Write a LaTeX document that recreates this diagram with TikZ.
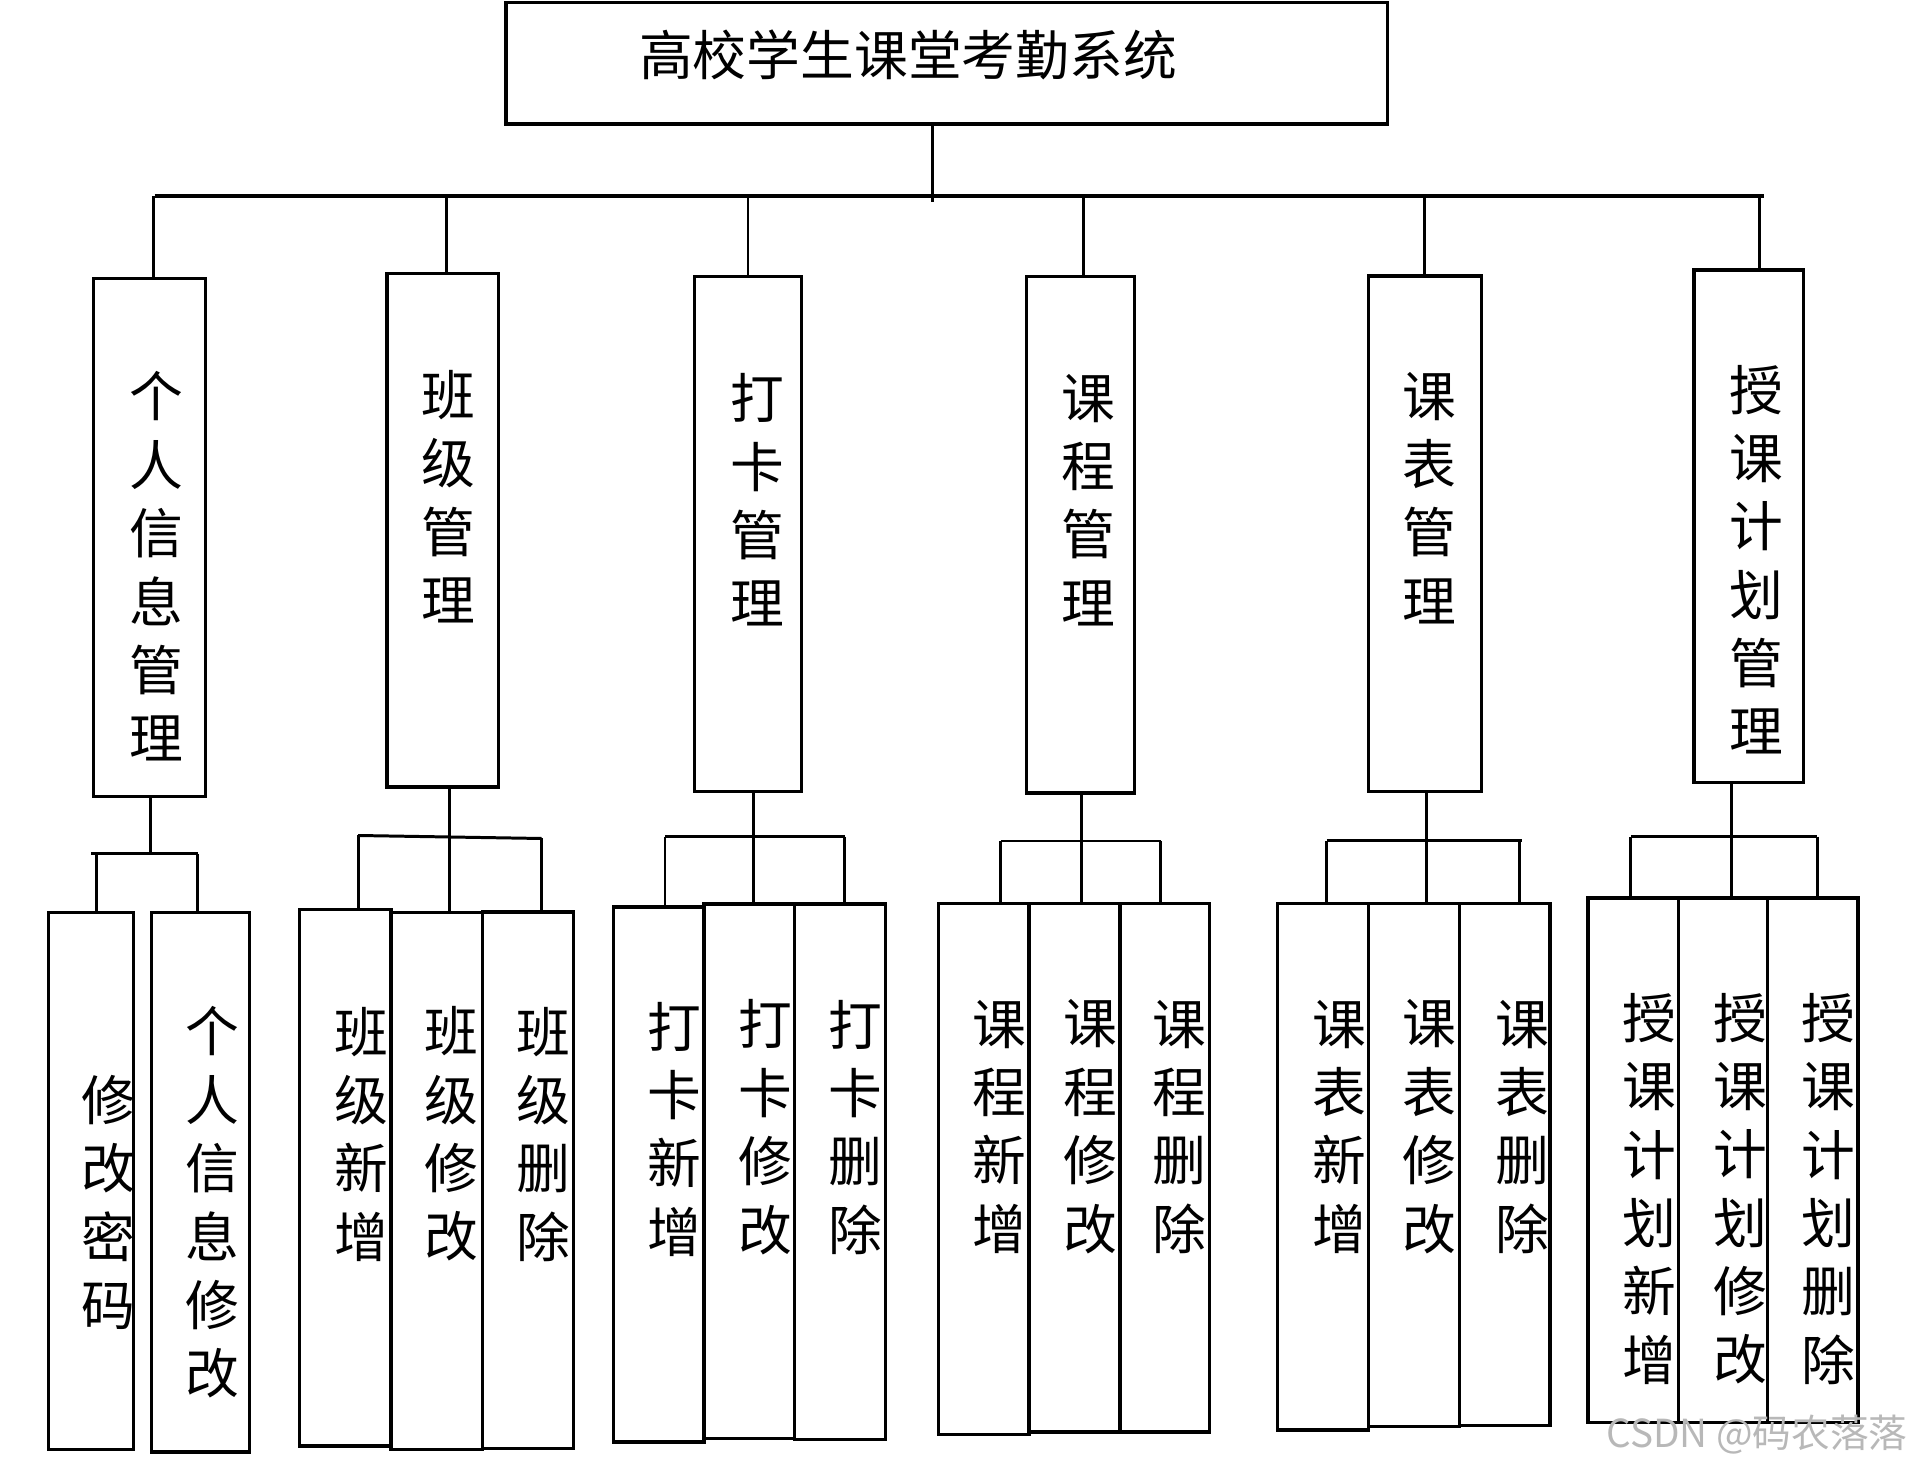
\documentclass[tikz,border=0pt]{standalone}
\usepackage{fontspec}
\newfontfamily\cjk{Noto Sans CJK SC}
\usepackage{tikz}

\begin{document}
\begin{tikzpicture}[
  every node/.style={font=\cjk\fontsize{15.3}{19.45}\selectfont},
  sysbox/.style={draw, line width=1pt, inner sep=0pt},
  modbox/.style={draw, line width=1pt, inner sep=0pt},
  funbox/.style={draw, line width=0.95pt, inner sep=0pt},
  vtext/.style={align=center, inner sep=0pt},
  link/.style={line width=0.85pt},
  wmark/.style={font=\cjk\fontsize{11}{13}\selectfont, color=black!28, inner sep=0pt},
]
\useasboundingbox (0,0) rectangle (19.07,-14.67);

\node[sysbox, minimum width=8.818cm, minimum height=1.217cm] (sys) at (9.468,-0.633) {};
\node[inner sep=0pt] (ttl) at (9.08,-0.549) {高校学生课堂考勤系统};

\node[modbox, minimum width=1.119cm, minimum height=5.181cm] (m1) at (1.496,-5.376) {};
\node[modbox, minimum width=1.118cm, minimum height=5.133cm] (m2) at (4.427,-5.303) {};
\node[modbox, minimum width=1.070cm, minimum height=5.150cm] (m3) at (7.480,-5.342) {};
\node[modbox, minimum width=1.082cm, minimum height=5.163cm] (m4) at (10.806,-5.348) {};
\node[modbox, minimum width=1.131cm, minimum height=5.156cm] (m5) at (14.248,-5.339) {};
\node[modbox, minimum width=1.094cm, minimum height=5.126cm] (m6) at (17.489,-5.263) {};
\node[vtext] (L1) at (1.560,-5.665) {个\\人\\信\\息\\管\\理};
\node[vtext] (L2) at (4.488,-4.967) {班\\级\\管\\理};
\node[vtext] (L3) at (7.571,-4.999) {打\\卡\\管\\理};
\node[vtext] (L4) at (10.885,-4.999) {课\\程\\管\\理};
\node[vtext] (L5) at (14.294,-4.980) {课\\表\\管\\理};
\node[vtext] (L6) at (17.566,-5.597) {授\\课\\计\\划\\管\\理};

\node[funbox, minimum width=0.852cm, minimum height=5.375cm] (s11) at (0.909,-11.810) {};
\node[funbox, minimum width=0.979cm, minimum height=5.399cm] (s12) at (2.004,-11.822) {};
\node[funbox, minimum width=0.918cm, minimum height=5.364cm] (s21) at (3.451,-11.779) {};
\node[funbox, minimum width=0.916cm, minimum height=5.369cm] (s22) at (4.368,-11.812) {};
\node[funbox, minimum width=0.907cm, minimum height=5.363cm] (s23) at (5.280,-11.803) {};
\node[funbox, minimum width=0.903cm, minimum height=5.350cm] (s31) at (6.588,-11.745) {};
\node[funbox, minimum width=0.907cm, minimum height=5.342cm] (s32) at (7.493,-11.712) {};
\node[funbox, minimum width=0.910cm, minimum height=5.353cm] (s33) at (8.401,-11.718) {};
\node[funbox, minimum width=0.902cm, minimum height=5.311cm] (s41) at (9.838,-11.689) {};
\node[funbox, minimum width=0.912cm, minimum height=5.287cm] (s42) at (10.745,-11.677) {};
\node[funbox, minimum width=0.895cm, minimum height=5.287cm] (s43) at (11.649,-11.677) {};
\node[funbox, minimum width=0.907cm, minimum height=5.267cm] (s51) at (13.231,-11.666) {};
\node[funbox, minimum width=0.912cm, minimum height=5.233cm] (s52) at (14.141,-11.650) {};
\node[funbox, minimum width=0.905cm, minimum height=5.223cm] (s53) at (15.049,-11.645) {};
\node[funbox, minimum width=0.907cm, minimum height=5.247cm] (s61) at (16.334,-11.604) {};
\node[funbox, minimum width=0.889cm, minimum height=5.247cm] (s62) at (17.232,-11.604) {};
\node[funbox, minimum width=0.904cm, minimum height=5.247cm] (s63) at (18.128,-11.604) {};

\node[vtext] (L11) at (1.086,-12.025) {修\\改\\密\\码};
\node[vtext] (L12) at (2.127,-12.025) {个\\人\\信\\息\\修\\改};
\node[vtext] (L21) at (3.611,-11.341) {班\\级\\新\\增};
\node[vtext] (L22) at (4.513,-11.341) {班\\级\\修\\改};
\node[vtext] (L23) at (5.432,-11.341) {班\\级\\删\\除};
\node[vtext] (L31) at (6.744,-11.291) {打\\卡\\新\\增};
\node[vtext] (L32) at (7.650,-11.272) {打\\卡\\修\\改};
\node[vtext] (L33) at (8.556,-11.272) {打\\卡\\删\\除};
\node[vtext] (L41) at (9.992,-11.267) {课\\程\\新\\增};
\node[vtext] (L42) at (10.904,-11.267) {课\\程\\修\\改};
\node[vtext] (L43) at (11.792,-11.267) {课\\程\\删\\除};
\node[vtext] (L51) at (13.393,-11.267) {课\\表\\新\\增};
\node[vtext] (L52) at (14.294,-11.267) {课\\表\\修\\改};
\node[vtext] (L53) at (15.222,-11.267) {课\\表\\删\\除};
\node[vtext] (L61) at (16.492,-11.888) {授\\课\\计\\划\\新\\增};
\node[vtext] (L62) at (17.403,-11.888) {授\\课\\计\\划\\修\\改};
\node[vtext] (L63) at (18.280,-11.888) {授\\课\\计\\划\\删\\除};

\coordinate (top) at (9.328,-2.019);
\coordinate (b1) at (1.532,-1.958);
\coordinate (b2) at (4.463,-1.958);
\coordinate (b3) at (7.480,-1.958);
\coordinate (b4) at (10.836,-1.958);
\coordinate (b5) at (14.242,-1.958);
\coordinate (b6) at (17.598,-1.958);
\draw[link] (top |- sys.south) -- (top);
\draw[link, line width=1.05pt] ([xshift=0.013cm]b1) -- ([xshift=0.037cm]b6);
\draw[link] (b1) -- (b1 |- m1.north);
\draw[link] (b2) -- (b2 |- m2.north);
\draw[link] (b3) -- (b3 |- m3.north);
\draw[link] (b4) -- (b4 |- m4.north);
\draw[link] (b5) -- (b5 |- m5.north);
\draw[link] (b6) -- (b6 |- m6.north);

\coordinate (j1) at (1.502,-8.538);
\coordinate (j1l) at (0.961,-8.538);
\coordinate (j1r) at (1.979,-8.538);
\draw[link] (j1 |- m1.south) -- (j1);
\draw[link] ([xshift=-0.05cm]j1l) -- (j1r);
\draw[link] (j1l) -- (j1l |- s11.north);
\draw[link] (j1r) -- (j1r |- s12.north);

\coordinate (j2) at (4.496,-8.355);
\coordinate (j2l) at (3.582,-8.355);
\coordinate (j2r) at (5.417,-8.385);
\draw[link] (j2 |- m2.south) -- (j2 |- s22.north);
\draw[link] (j2l) -- (j2r);
\draw[link] (j2l) -- (j2l |- s21.north);
\draw[link] (j2r) -- (j2r |- s23.north);

\coordinate (j3) at (7.538,-8.367);
\coordinate (j3l) at (6.650,-8.367);
\coordinate (j3r) at (8.448,-8.367);
\draw[link] (j3 |- m3.south) -- (j3 |- s32.north);
\draw[link] (j3l) -- (j3r);
\draw[link] (j3l) -- (j3l |- s31.north);
\draw[link] (j3r) -- (j3r |- s33.north);

\coordinate (j4) at (10.812,-8.410);
\coordinate (j4l) at (10.009,-8.410);
\coordinate (j4r) at (11.606,-8.410);
\draw[link] (j4 |- m4.south) -- (j4 |- s42.north);
\draw[link] (j4l) -- (j4r);
\draw[link] (j4l) -- (j4l |- s41.north);
\draw[link] (j4r) -- (j4r |- s43.north);

\coordinate (j5) at (14.264,-8.406);
\coordinate (j5l) at (13.269,-8.406);
\coordinate (j5r) at (15.190,-8.406);
\draw[link] (j5 |- m5.south) -- (j5 |- s52.north);
\draw[link] (j5l) -- ([xshift=0.025cm]j5r);
\draw[link] (j5l) -- (j5l |- s51.north);
\draw[link] (j5r) -- (j5r |- s53.north);

\coordinate (j6) at (17.310,-8.367);
\coordinate (j6l) at (16.309,-8.367);
\coordinate (j6r) at (18.170,-8.367);
\draw[link] (j6 |- m6.south) -- (j6 |- s62.north);
\draw[link] (j6l) -- (j6r);
\draw[link] (j6l) -- (j6l |- s61.north);
\draw[link] (j6r) -- (j6r |- s63.north);

\node[wmark] (wm) at (17.57,-14.35) {CSDN @码农落落};
\end{tikzpicture}
\end{document}
